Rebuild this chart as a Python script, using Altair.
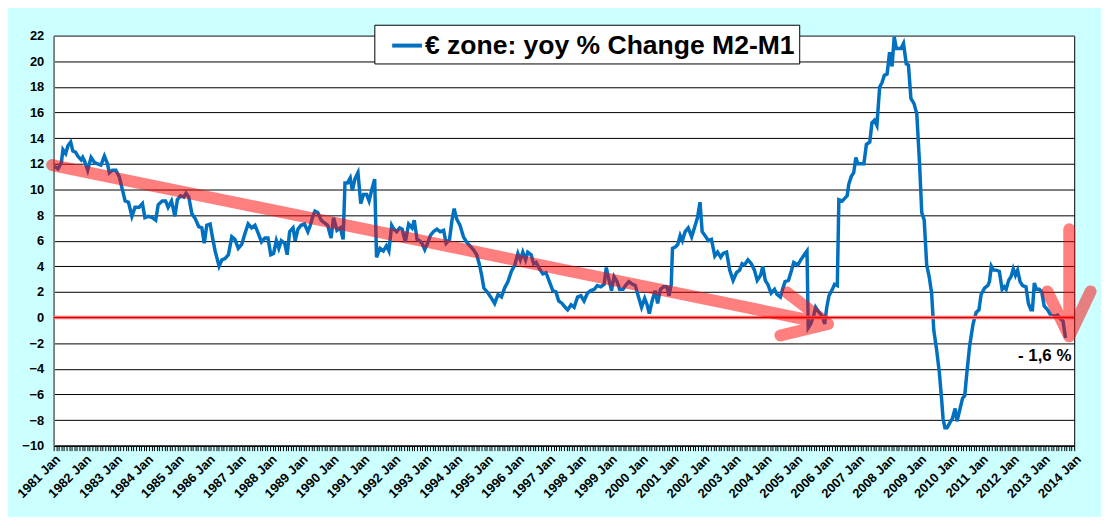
import altair as alt
import pandas as pd

# ---- data (decimal year, % yoy change M2-M1) ----
year_frac = [
    1981.03, 1981.14, 1981.25, 1981.30, 1981.39, 1981.46, 1981.55, 1981.62, 1981.71, 1981.78, 1981.89, 1981.94,
    1982.00, 1982.10, 1982.21, 1982.32, 1982.42, 1982.53, 1982.64, 1982.74, 1982.80, 1982.90,
    1983.01, 1983.12, 1983.23, 1983.31, 1983.42, 1983.53, 1983.63, 1983.76, 1983.87, 1983.95,
    1984.06, 1984.19, 1984.30, 1984.38, 1984.51, 1984.62, 1984.70, 1984.81, 1984.92,
    1985.00, 1985.10, 1985.21, 1985.28, 1985.37, 1985.47, 1985.58, 1985.69, 1985.79, 1985.87, 1985.95,
    1986.06, 1986.14, 1986.22, 1986.35, 1986.44, 1986.54, 1986.65, 1986.76, 1986.86, 1986.97,
    1987.08, 1987.19, 1987.29, 1987.40, 1987.51, 1987.61, 1987.72, 1987.83, 1987.93,
    1988.02, 1988.11, 1988.20, 1988.28, 1988.36, 1988.47, 1988.55, 1988.63, 1988.74, 1988.81, 1988.90,
    1989.00, 1989.11, 1989.22, 1989.30, 1989.38, 1989.45, 1989.54, 1989.65, 1989.75, 1989.86, 1989.97,
    1990.05, 1990.16, 1990.27, 1990.36, 1990.42, 1990.50, 1990.59, 1990.66, 1990.74, 1990.84, 1990.93,
    1991.02, 1991.12, 1991.20, 1991.30, 1991.38, 1991.44, 1991.55, 1991.66, 1991.76, 1991.84, 1991.93,
    1992.00, 1992.09, 1992.19, 1992.27, 1992.37, 1992.48, 1992.59, 1992.66, 1992.75, 1992.83, 1992.91,
    1993.00, 1993.09, 1993.18, 1993.28, 1993.39, 1993.50, 1993.61, 1993.69, 1993.80, 1993.88, 1993.95,
    1994.03, 1994.14, 1994.25, 1994.35, 1994.46, 1994.57, 1994.68, 1994.76, 1994.84, 1994.91,
    1995.05, 1995.16, 1995.26, 1995.37, 1995.48, 1995.58, 1995.69, 1995.80, 1995.91,
    1996.01, 1996.09, 1996.17, 1996.26, 1996.33, 1996.44, 1996.52, 1996.60, 1996.71, 1996.82, 1996.92,
    1997.03, 1997.14, 1997.24, 1997.33, 1997.44, 1997.54, 1997.62, 1997.73, 1997.83, 1997.94,
    1998.05, 1998.15, 1998.26, 1998.37, 1998.48, 1998.58, 1998.69, 1998.80, 1998.87, 1998.96,
    1999.04, 1999.12, 1999.22, 1999.30, 1999.41, 1999.49, 1999.60, 1999.71, 1999.81, 1999.90,
    2000.01, 2000.11, 2000.19, 2000.26, 2000.35, 2000.45, 2000.53, 2000.62, 2000.72, 2000.83, 2000.90, 2000.97,
    2001.01, 2001.10, 2001.18, 2001.26, 2001.33, 2001.42, 2001.52, 2001.63, 2001.72, 2001.82, 2001.90, 2001.97,
    2002.06, 2002.17, 2002.27, 2002.38, 2002.47, 2002.57, 2002.65, 2002.76, 2002.86, 2002.97,
    2003.08, 2003.18, 2003.26, 2003.34, 2003.45, 2003.56, 2003.66, 2003.75, 2003.86, 2003.93,
    2004.01, 2004.09, 2004.20, 2004.31, 2004.39, 2004.50, 2004.57, 2004.65, 2004.76, 2004.86, 2004.93,
    2005.06, 2005.16, 2005.27, 2005.36, 2005.40, 2005.48, 2005.57, 2005.64, 2005.75, 2005.86, 2005.93,
    2006.00, 2006.07, 2006.18, 2006.25, 2006.34, 2006.39, 2006.50, 2006.58, 2006.66, 2006.71, 2006.79, 2006.87, 2006.94,
    2007.00, 2007.09, 2007.20, 2007.28, 2007.39, 2007.46, 2007.54, 2007.62, 2007.71, 2007.78, 2007.86, 2007.95,
    2008.03, 2008.11, 2008.18, 2008.25, 2008.33, 2008.40, 2008.48, 2008.57, 2008.64, 2008.72, 2008.82, 2008.91,
    2009.00, 2009.07, 2009.15, 2009.23, 2009.31, 2009.39, 2009.46, 2009.55, 2009.64, 2009.71, 2009.76, 2009.82, 2009.89, 2009.98,
    2010.06, 2010.15, 2010.21, 2010.30, 2010.39, 2010.46, 2010.53, 2010.62, 2010.73, 2010.83, 2010.92, 2010.99,
    2011.10, 2011.21, 2011.26, 2011.32, 2011.39, 2011.48, 2011.58, 2011.67, 2011.74, 2011.80, 2011.88, 2011.96,
    2012.03, 2012.10, 2012.17, 2012.25, 2012.33, 2012.44, 2012.52, 2012.60, 2012.65, 2012.71, 2012.78, 2012.87, 2012.95,
    2013.03, 2013.14, 2013.24, 2013.35, 2013.46, 2013.56, 2013.64, 2013.72,
]
m2_m1_yoy = [
    11.8, 11.6, 12.1, 13.1, 12.8, 13.4, 13.7, 13.0, 12.9, 12.6, 12.3, 12.5,
    12.2, 11.5, 12.5, 12.1, 12.0, 11.9, 12.6, 12.0, 11.3, 11.5,
    11.5, 11.0, 9.9, 9.1, 9.0, 7.9, 8.6, 8.6, 8.9, 7.8,
    7.9, 7.8, 7.6, 8.8, 9.1, 9.1, 8.6, 9.1, 7.9,
    9.2, 9.5, 9.4, 9.7, 9.4, 8.1, 7.7, 7.1, 7.0, 5.8, 7.2,
    7.3, 6.2, 5.2, 4.0, 4.5, 4.6, 4.9, 6.3, 6.1, 5.4,
    5.7, 6.6, 7.3, 7.0, 7.2, 6.6, 5.9, 6.2, 6.2,
    4.9, 5.0, 6.0, 5.4, 6.0, 5.8, 4.9, 6.7, 7.0, 6.0, 6.9,
    7.2, 7.3, 6.7, 7.2, 7.9, 8.3, 8.2, 7.6, 7.4, 7.2, 6.2,
    7.8, 6.8, 7.0, 6.1, 10.5, 10.5, 10.9, 9.9, 10.8, 11.3, 8.9,
    9.6, 9.6, 9.1, 10.1, 10.8, 4.7, 5.4, 5.2, 5.6, 5.2, 7.2,
    6.9, 6.7, 7.0, 6.9, 5.9, 7.3, 7.0, 7.6, 6.1, 6.0, 5.8,
    5.3, 5.8, 6.4, 6.7, 6.9, 6.7, 6.8, 5.8, 6.1, 7.6, 8.5,
    7.7, 7.2, 6.3, 5.9, 5.6, 5.3, 4.9, 4.2, 3.3, 2.3,
    1.9, 1.5, 1.1, 1.8, 1.6, 2.3, 2.8, 3.6, 4.1,
    5.0, 4.5, 5.1, 4.5, 5.1, 4.9, 4.2, 4.3, 3.8, 3.4, 3.5,
    2.8, 2.1, 2.0, 1.3, 1.1, 0.8, 0.6, 1.0, 0.8, 1.6,
    1.7, 1.3, 1.9, 2.1, 2.2, 2.5, 2.4, 2.6, 3.9, 2.9,
    2.1, 3.2, 2.8, 2.2, 2.2, 2.5, 2.8, 2.6, 2.5, 1.7,
    0.8, 1.5, 1.0, 0.3, 1.3, 2.1, 1.1, 2.2, 2.4, 2.4, 1.7, 2.6,
    5.4, 5.5, 5.7, 6.4, 6.0, 6.7, 7.0, 6.3, 7.0, 7.8, 9.0, 6.7,
    6.4, 6.0, 6.1, 4.8, 5.1, 4.7, 5.0, 5.1, 3.7, 2.9,
    3.5, 3.7, 4.2, 4.1, 4.5, 4.2, 3.7, 2.9, 3.3, 4.0,
    2.9, 2.6, 1.9, 2.2, 1.8, 1.6, 2.2, 2.8, 2.9, 3.7, 4.3,
    4.1, 4.5, 4.9, 5.2, -0.8, -0.5, 0.1, 0.8, 0.4, 0.1, -0.5,
    0.8, 1.7, 2.2, 2.6, 2.5, 9.2, 9.1, 9.3, 9.5, 10.4, 11.0, 11.3, 12.5,
    12.0, 12.0, 12.0, 13.5, 13.7, 15.2, 15.4, 15.0, 18.0, 18.3, 18.9, 19.0,
    20.7, 19.6, 21.9, 21.0, 21.0, 21.0, 21.4, 19.8, 19.7, 17.1, 16.7, 15.9,
    12.0, 8.2, 7.6, 4.1, 3.2, 1.9, -1.0, -2.5, -4.3, -6.3, -7.9, -8.6, -8.6, -8.2,
    -7.9, -7.1, -8.1, -7.2, -6.3, -6.1, -4.3, -2.2, -0.5, 0.4, 0.6, 1.8,
    2.3, 2.5, 2.8, 4.0, 3.7, 3.7, 3.6, 2.2, 2.4, 2.2, 2.9, 3.2,
    3.8, 3.3, 3.7, 2.8, 2.5, 2.4, 1.1, 0.6, 0.6, 2.7, 2.2, 2.2, 2.0,
    0.9, 0.6, 0.2, 0.1, 0.2, -0.1, -0.3, -1.6,
]
series_name = "€ zone: yoy % Change M2-M1"

# ---- hand-drawn red arrows of the original (path order within each arrow) ----
arrow_id = [1, 1, 1, 1, 1, 2, 2, 2, 2, 2]
arrow_step = [0, 1, 2, 3, 4, 0, 1, 2, 3, 4]
arrow_t = [1980.95, 2006.04, 2004.71, 2006.04, 2004.50, 2013.84, 2013.84, 2013.13, 2013.84, 2014.53]
arrow_v = [11.9, -0.51, 1.96, -0.51, -1.40, 6.9, -1.47, 2.04, -1.47, 2.04]

# ---- annotation ----
note_t = [2013.91]
note_v = [-3.4]
note_text = ["- 1,6 %"]

zero_level = [0]

x_ticks = [1981 + k / 12 for k in range(397)]   # one tick per month
y_ticks = list(range(-10, 23, 2))

FONT = "Liberation Sans"

df = pd.DataFrame({"t": year_frac, "v": m2_m1_yoy, "series": series_name})
arrows = pd.DataFrame({"id": arrow_id, "step": arrow_step, "t": arrow_t, "v": arrow_v})
notes = pd.DataFrame({"t": note_t, "v": note_v, "label": note_text})
zero = pd.DataFrame({"v": zero_level})

xs = alt.Scale(domain=[1981, 2014], nice=False, zero=False)
ys = alt.Scale(domain=[-10, 22], nice=False, zero=False)

x_axis = alt.Axis(
    values=x_ticks, tickCount=len(x_ticks), grid=False, tickSize=5, tickColor="black", tickWidth=1,
    domainColor="black", domainWidth=1,
    labelExpr="abs(datum.value - round(datum.value)) < 0.001 ? round(datum.value) + ' Jan' : ''",
    labelAngle=-45, labelAlign="right", labelBaseline="top", labelPadding=2,
    labelFont=FONT, labelFontSize=13, labelFontWeight="bold", labelColor="black",
    labelOverlap=False, labelFlush=False, labelBound=False, title=None,
)
y_axis = alt.Axis(
    values=y_ticks, tickCount=len(y_ticks), grid=True,
    gridColor={"condition": {"test": "datum.value === 22", "value": "#808080"}, "value": "#000000"},
    gridWidth=1, ticks=False, domainColor="#808080", domainWidth=1.5,
    labelPadding=10, labelFont=FONT, labelFontSize=13, labelFontWeight="bold",
    labelColor="black", labelOverlap=False, labelFlush=False, title=None,
)

line = alt.Chart(df).mark_line(strokeWidth=3.5, clip=False).encode(
    x=alt.X("t:Q", scale=xs, axis=x_axis),
    y=alt.Y("v:Q", scale=ys, axis=y_axis),
    color=alt.Color(
        "series:N",
        scale=alt.Scale(range=["#0070c0"]),
        legend=alt.Legend(
            title=None, orient="none", legendX=323, legendY=-11,
            fillColor="white", strokeColor="black", padding=4,
            symbolType="stroke", symbolSize=900, symbolStrokeWidth=4, symbolOffset=12,
            labelFont=FONT, labelFontSize=26.7, labelFontWeight="bold", labelColor="black",
            labelOffset=1, labelLimit=800,
            labelExpr="datum.label + '\u00a0\u00a0'",
        ),
    ),
)

zero_pink = alt.Chart(zero).mark_rule(color="#ff7070", strokeWidth=3.5).encode(y=alt.Y("v:Q", scale=ys))
zero_red = alt.Chart(zero).mark_rule(color="#d00000", strokeWidth=1).encode(y=alt.Y("v:Q", scale=ys))

arrow_marks = alt.Chart(arrows).mark_line(
    color="#ff0000", opacity=0.5, strokeWidth=12, strokeCap="round", strokeJoin="round", clip=False
).encode(
    x=alt.X("t:Q", scale=xs),
    y=alt.Y("v:Q", scale=ys),
    detail="id:N",
    order="step:Q",
)

note = alt.Chart(notes).mark_text(
    align="right", baseline="alphabetic", font=FONT, fontSize=17, fontWeight="bold", color="black"
).encode(x=alt.X("t:Q", scale=xs), y=alt.Y("v:Q", scale=ys), text="label:N")

chart = alt.layer(line, zero_pink, zero_red, arrow_marks, note).properties(
    width=1028, height=413,
    autosize=alt.AutoSizeParams(type="none"),
    padding={"left": 46, "top": 26, "right": 27, "bottom": 70},
).configure(background="#ccffff").configure_view(stroke="black", strokeWidth=1, fill="white")

chart.save("out.html", embed_options={"renderer": "svg", "actions": False})
